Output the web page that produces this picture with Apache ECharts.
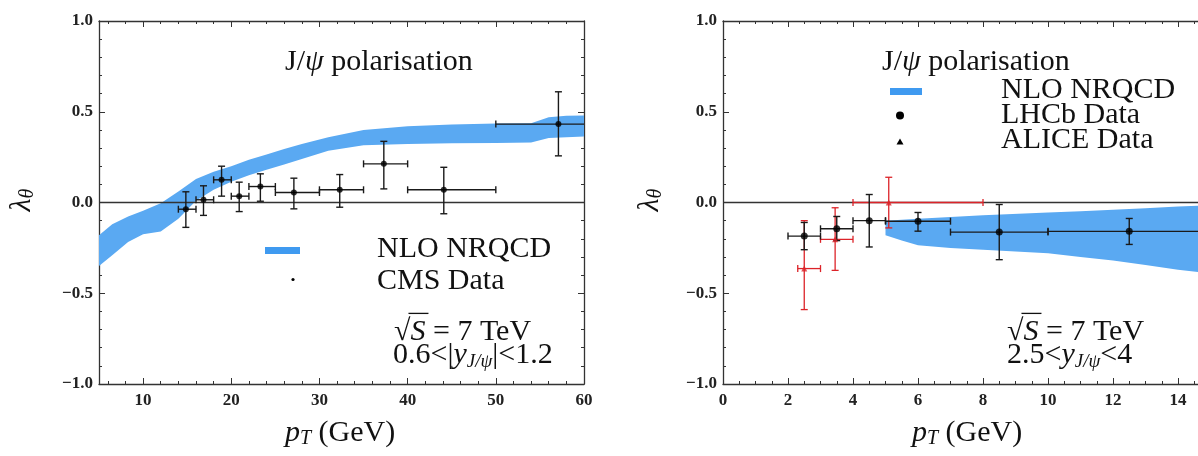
<!DOCTYPE html>
<html>
<head>
<meta charset="utf-8">
<script src="https://cdn.jsdelivr.net/npm/echarts@6/dist/echarts.min.js"></script>
<style>
html,body{margin:0;padding:0;background:#fff;}
#chart{width:1198px;height:456px;}
</style>
</head>
<body>
<div id="chart"></div>
<script>
// ---------------- DATA ----------------
// Left panel: CMS, 0.6<|y|<1.2
const cmsPt       = [14.85, 16.85, 18.9, 20.9, 23.3, 27.1, 32.3, 37.3, 44.1, 57.1];
const cmsLambda   = [-0.037, 0.015, 0.125, 0.035, 0.088, 0.055, 0.07, 0.213, 0.07, 0.432];
const cmsPtLow    = [14, 16, 18, 20, 22, 25, 30, 35, 40, 50];
const cmsPtHigh   = [16, 18, 20, 22, 25, 30, 35, 40, 50, 70];
const cmsErrLow   = [-0.137, -0.071, 0.035, -0.05, 0.007, -0.035, -0.026, 0.075, -0.062, 0.257];
const cmsErrHigh  = [0.059, 0.092, 0.2, 0.112, 0.158, 0.134, 0.154, 0.337, 0.194, 0.61];

const nrqcdCmsPt    = [5, 6.5, 8.3, 10, 12, 14, 16, 18, 20, 22, 24, 26, 28, 31, 35, 40, 45, 50, 54, 56, 58, 60];
const nrqcdCmsUpper = [-0.18, -0.12, -0.077, -0.045, -0.004, 0.06, 0.13, 0.17, 0.2, 0.235, 0.265, 0.295, 0.322, 0.36, 0.4, 0.42, 0.43, 0.435, 0.437, 0.47, 0.478, 0.48];
const nrqcdCmsLower = [-0.35, -0.29, -0.218, -0.175, -0.16, -0.09, 0.01, 0.07, 0.115, 0.15, 0.18, 0.21, 0.24, 0.285, 0.315, 0.322, 0.326, 0.328, 0.33, 0.355, 0.36, 0.363];

// Right panel: LHCb / ALICE, 2.5<y<4
const lhcbPt      = [2.5, 3.5, 4.5, 6, 8.5, 12.5];
const lhcbLambda  = [-0.185, -0.145, -0.1, -0.103, -0.163, -0.159];
const lhcbPtLow   = [2, 3, 4, 5, 7, 10];
const lhcbPtHigh  = [3, 4, 5, 7, 10, 15];
const lhcbErrLow  = [-0.26, -0.21, -0.245, -0.158, -0.315, -0.231];
const lhcbErrHigh = [-0.11, -0.077, 0.044, -0.055, -0.011, -0.088];

const alicePt      = [2.5, 3.45, 5.1];
const aliceLambda  = [-0.364, -0.203, 0.0];
const alicePtLow   = [2.3, 3, 4];
const alicePtHigh  = [3, 4, 8];
const aliceErrLow  = [-0.59, -0.374, -0.14];
const aliceErrHigh = [-0.1, -0.029, 0.139];

const nrqcdFwdPt    = [5, 5.5, 6, 7, 8, 10, 11, 12, 13, 14, 15];
const nrqcdFwdUpper = [-0.1, -0.095, -0.09, -0.08, -0.07, -0.055, -0.048, -0.04, -0.032, -0.022, -0.015];
const nrqcdFwdLower = [-0.18, -0.21, -0.235, -0.25, -0.26, -0.28, -0.3, -0.32, -0.345, -0.37, -0.39];

// Axes / tick labels
const leftXRange   = [5, 60];
const leftXTicks   = [10, 20, 30, 40, 50, 60];
const leftXMinor   = [6, 8, 12, 14, 16, 18, 22, 24, 26, 28, 32, 34, 36, 38, 42, 44, 46, 48, 52, 54, 56, 58];
const rightXRange  = [0, 16];
const rightXStep   = 2;
const yRange       = [-1, 1];
const yStep        = 0.5;

// ---------------- STYLE ----------------
const SERIF = '"Liberation Serif", "DejaVu Serif", serif';
const AX = '#333';
const BLUE = '#5aa9f2';
const BLUE_LEG = '#3f9af0';
const RED = '#dc2329';
const INK = '#111';

const measureCtx = document.createElement('canvas').getContext('2d');
function fontStr(p){ return (p.i ? 'italic ' : '') + (p.b ? 'bold ' : '') + p.s + 'px ' + SERIF; }
function mathGroup(x, y, pieces, align, rotation){
  let w = 0; const widths = pieces.map(p => { measureCtx.font = fontStr(p); const ww = measureCtx.measureText(p.t).width; w += ww; return ww; });
  let cur = align === 'center' ? -w/2 : 0;
  const children = [];
  pieces.forEach((p, k) => {
    children.push({type:'text', x:cur, y:(p.dy||0), style:{text:p.t, font:fontStr(p), fill:INK, align:'left', verticalAlign:'middle'}});
    if (p.over){
      children.push({type:'line', shape:{x1:cur-2, y1:-p.s*0.62, x2:cur+widths[k]+3, y2:-p.s*0.62}, style:{stroke:INK, lineWidth:1.3}});
    }
    cur += widths[k];
  });
  return {type:'group', x:x, y:y, rotation:rotation||0, children:children, z:100};
}

const axisLineStyle = {color:AX, width:1.3};
const labelStyle = {fontFamily:SERIF, fontWeight:'bold', fontSize:17, color:'#222'};
const fmtY = v => (v < 0 ? '\u2212' + Math.abs(v).toFixed(1) : v.toFixed(1));

function yAxisPair(gi){
  const base = {gridIndex:gi, type:'value', min:yRange[0], max:yRange[1], interval:yStep,
    splitLine:{show:false}, minorSplitLine:{show:false},
    axisTick:{inside:true, length:6, lineStyle:{color:AX, width:1}},
    minorTick:{show:true, splitNumber:5, length:3, lineStyle:{color:AX, width:1}}};
  return [
    Object.assign({}, base, {position:'left', axisLine:{show:true, onZero:false, lineStyle:axisLineStyle},
      axisLabel:Object.assign({formatter:fmtY, margin:6}, labelStyle)}),
    Object.assign({}, base, {position:'right', axisLine:{show:true, onZero:false, lineStyle:axisLineStyle},
      axisLabel:{show:false}})
  ];
}

const xAxes = [
  // left panel (0..3)
  {gridIndex:0, type:'value', min:leftXRange[0], max:leftXRange[1], position:'bottom',
    axisLine:{show:true, onZero:false, lineStyle:axisLineStyle}, splitLine:{show:false},
    axisTick:{inside:true, length:6, customValues:leftXTicks, lineStyle:{color:AX, width:1}},
    axisLabel:Object.assign({customValues:leftXTicks, margin:8}, labelStyle)},
  {gridIndex:0, type:'value', min:leftXRange[0], max:leftXRange[1], position:'bottom',
    axisLine:{show:false, onZero:false}, splitLine:{show:false},
    axisTick:{inside:true, length:3, customValues:leftXMinor, lineStyle:{color:AX, width:1}},
    axisLabel:{show:false}},
  {gridIndex:0, type:'value', min:leftXRange[0], max:leftXRange[1], position:'top',
    axisLine:{show:true, onZero:false, lineStyle:axisLineStyle}, splitLine:{show:false},
    axisTick:{inside:true, length:6, customValues:leftXTicks, lineStyle:{color:AX, width:1}},
    axisLabel:{show:false}},
  {gridIndex:0, type:'value', min:leftXRange[0], max:leftXRange[1], position:'top',
    axisLine:{show:false, onZero:false}, splitLine:{show:false},
    axisTick:{inside:true, length:3, customValues:leftXMinor, lineStyle:{color:AX, width:1}},
    axisLabel:{show:false}},
  // right panel (4..5)
  {gridIndex:1, type:'value', min:rightXRange[0], max:rightXRange[1], interval:rightXStep, position:'bottom',
    axisLine:{show:true, onZero:false, lineStyle:axisLineStyle}, splitLine:{show:false}, minorSplitLine:{show:false},
    axisTick:{inside:true, length:6, lineStyle:{color:AX, width:1}},
    minorTick:{show:true, splitNumber:4, length:3, lineStyle:{color:AX, width:1}},
    axisLabel:Object.assign({margin:8, showMaxLabel:false}, labelStyle)},
  {gridIndex:1, type:'value', min:rightXRange[0], max:rightXRange[1], interval:rightXStep, position:'top',
    axisLine:{show:true, onZero:false, lineStyle:axisLineStyle}, splitLine:{show:false}, minorSplitLine:{show:false},
    axisTick:{inside:true, length:6, lineStyle:{color:AX, width:1}},
    minorTick:{show:true, splitNumber:4, length:3, lineStyle:{color:AX, width:1}},
    axisLabel:{show:false}}
];
const yAxes = yAxisPair(0).concat(yAxisPair(1));

function bandRender(xs, lo, hi){
  return function(params, api){
    if (params.dataIndex !== 0) return null;
    const pts = [];
    for (let i = 0; i < xs.length; i++) pts.push(api.coord([xs[i], hi[i]]));
    for (let i = xs.length - 1; i >= 0; i--) pts.push(api.coord([xs[i], lo[i]]));
    return {type:'polygon', shape:{points:pts}, style:{fill:BLUE}};
  };
}
function errRender(color, lw){
  return function(params, api){
    const cs = params.coordSys;
    const x = api.value(0), y = api.value(1);
    const pl = api.coord([api.value(2), y]), ph = api.coord([api.value(3), y]);
    const pb = api.coord([x, api.value(4)]), pt = api.coord([x, api.value(5)]);
    const xmin = cs.x, xmax = cs.x + cs.width;
    const lx = Math.max(pl[0], xmin), hx = Math.min(ph[0], xmax);
    const st = {stroke:color, lineWidth:lw};
    const cap = 3.5;
    const ch = [
      {type:'line', shape:{x1:lx, y1:pl[1], x2:hx, y2:ph[1]}, style:st},
      {type:'line', shape:{x1:pb[0], y1:pb[1], x2:pt[0], y2:pt[1]}, style:st},
      {type:'line', shape:{x1:pb[0]-cap, y1:pb[1], x2:pb[0]+cap, y2:pb[1]}, style:st},
      {type:'line', shape:{x1:pt[0]-cap, y1:pt[1], x2:pt[0]+cap, y2:pt[1]}, style:st}
    ];
    if (pl[0] >= xmin) ch.push({type:'line', shape:{x1:pl[0], y1:pl[1]-cap, x2:pl[0], y2:pl[1]+cap}, style:st});
    if (ph[0] <= xmax) ch.push({type:'line', shape:{x1:ph[0], y1:ph[1]-cap, x2:ph[0], y2:ph[1]+cap}, style:st});
    return {type:'group', children:ch};
  };
}
const zip6 = (a,b,c,d,e,f) => a.map((v,i)=>[v, b[i], c[i], d[i], e[i], f[i]]);

const series = [
  {type:'custom', xAxisIndex:0, yAxisIndex:0, renderItem:bandRender(nrqcdCmsPt, nrqcdCmsLower, nrqcdCmsUpper),
    data:nrqcdCmsPt.map((x,i)=>[x, nrqcdCmsLower[i], nrqcdCmsUpper[i]]), silent:true, z:1},
  {type:'line', xAxisIndex:0, yAxisIndex:0, data:leftXRange.map(x=>[x,0]), symbol:'none',
    lineStyle:{color:AX, width:1.3}, silent:true, z:2},
  {type:'custom', xAxisIndex:0, yAxisIndex:0, renderItem:errRender('#1a1a1a', 1.4),
    data:zip6(cmsPt, cmsLambda, cmsPtLow, cmsPtHigh, cmsErrLow, cmsErrHigh), silent:true, z:3},
  {type:'scatter', xAxisIndex:0, yAxisIndex:0, data:cmsPt.map((x,i)=>[x, cmsLambda[i]]),
    symbol:'circle', symbolSize:6, itemStyle:{color:'#000'}, silent:true, z:4},

  {type:'custom', xAxisIndex:4, yAxisIndex:2, renderItem:bandRender(nrqcdFwdPt, nrqcdFwdLower, nrqcdFwdUpper),
    data:nrqcdFwdPt.map((x,i)=>[x, nrqcdFwdLower[i], nrqcdFwdUpper[i]]), silent:true, z:1},
  {type:'line', xAxisIndex:4, yAxisIndex:2, data:rightXRange.map(x=>[x,0]), symbol:'none',
    lineStyle:{color:AX, width:1.3}, silent:true, z:2},
  {type:'custom', xAxisIndex:4, yAxisIndex:2, renderItem:errRender(RED, 1.3),
    data:zip6(alicePt, aliceLambda, alicePtLow, alicePtHigh, aliceErrLow, aliceErrHigh), silent:true, z:3},
  {type:'custom', xAxisIndex:4, yAxisIndex:2, renderItem:errRender('#1a1a1a', 1.4),
    data:zip6(lhcbPt, lhcbLambda, lhcbPtLow, lhcbPtHigh, lhcbErrLow, lhcbErrHigh), silent:true, z:3},
  {type:'scatter', xAxisIndex:4, yAxisIndex:2, data:alicePt.map((x,i)=>[x, aliceLambda[i]]),
    symbol:'triangle', symbolSize:6, itemStyle:{color:RED}, silent:true, z:4},
  {type:'scatter', xAxisIndex:4, yAxisIndex:2, data:lhcbPt.map((x,i)=>[x, lhcbLambda[i]]),
    symbol:'circle', symbolSize:7, itemStyle:{color:'#000'}, silent:true, z:5}
];

const F = 30;
const graphics = [
  // left panel texts
  mathGroup(285, 62, [{t:'J/',s:F},{t:'\u03c8',s:F,i:true},{t:' polarisation',s:F}], 'left'),
  {type:'rect', shape:{x:265, y:247, width:35, height:7}, style:{fill:BLUE_LEG}, z:100},
  {type:'circle', shape:{cx:293, cy:279.5, r:1.6}, style:{fill:'#000'}, z:100},
  mathGroup(377, 249, [{t:'NLO NRQCD',s:F}], 'left'),
  mathGroup(377, 281, [{t:'CMS Data',s:F}], 'left'),
  mathGroup(394, 332, [{t:'\u221a',s:F},{t:'S',s:F,i:true,over:true},{t:' = 7 TeV',s:F}], 'left'),
  mathGroup(393, 355, [{t:'0.6<|',s:F},{t:'y',s:F,i:true},{t:'J/\u03c8',s:19,i:true,dy:7},{t:'|<1.2',s:F}], 'left'),
  mathGroup(22, 200, [{t:'\u03bb',s:30,i:true},{t:'\u03b8',s:20,i:true,dy:6}], 'center', Math.PI/2),
  mathGroup(340, 433, [{t:'p',s:30,i:true},{t:'T',s:20,i:true,dy:6},{t:' (GeV)',s:30}], 'center'),
  // right panel texts
  mathGroup(882, 62, [{t:'J/',s:F},{t:'\u03c8',s:F,i:true},{t:' polarisation',s:F}], 'left'),
  {type:'rect', shape:{x:890, y:88, width:32, height:7}, style:{fill:BLUE_LEG}, z:100},
  {type:'circle', shape:{cx:900, cy:115.5, r:4}, style:{fill:'#000'}, z:100},
  {type:'polygon', shape:{points:[[900,138.5],[896.5,144.5],[903.5,144.5]]}, style:{fill:'#000'}, z:100},
  mathGroup(1001, 90, [{t:'NLO NRQCD',s:F}], 'left'),
  mathGroup(1001, 115, [{t:'LHCb Data',s:F}], 'left'),
  mathGroup(1001, 140, [{t:'ALICE Data',s:F}], 'left'),
  mathGroup(1007, 332, [{t:'\u221a',s:F},{t:'S',s:F,i:true,over:true},{t:' = 7 TeV',s:F}], 'left'),
  mathGroup(1007, 355, [{t:'2.5<',s:F},{t:'y',s:F,i:true},{t:'J/\u03c8',s:19,i:true,dy:7},{t:'<4',s:F}], 'left'),
  mathGroup(650, 200, [{t:'\u03bb',s:30,i:true},{t:'\u03b8',s:20,i:true,dy:6}], 'center', Math.PI/2),
  mathGroup(967, 433, [{t:'p',s:30,i:true},{t:'T',s:20,i:true,dy:6},{t:' (GeV)',s:30}], 'center')
];

const chart = echarts.init(document.getElementById('chart'), null, {renderer:'canvas'});
chart.setOption({
  animation:false,
  backgroundColor:'#fff',
  grid:[
    {left:99, top:21, width:485, height:363, containLabel:false, outerBoundsMode:'none'},
    {left:723, top:21, width:520, height:363, containLabel:false, outerBoundsMode:'none'}
  ],
  xAxis:xAxes,
  yAxis:yAxes,
  series:series,
  graphic:graphics
});
</script>
</body>
</html>
